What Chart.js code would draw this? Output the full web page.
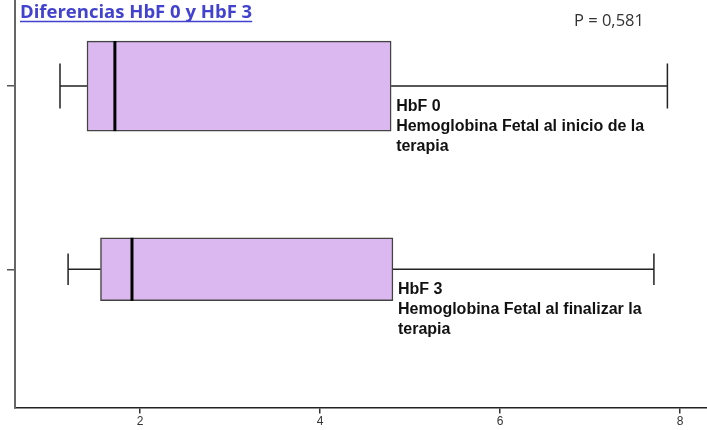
<!DOCTYPE html>
<html>
<head>
<meta charset="utf-8">
<script src="https://cdn.jsdelivr.net/npm/chart.js@4"></script>
<style>
  html, body { margin: 0; padding: 0; background: #fff; }
  #wrap { width: 707px; height: 430px; position: relative; }
</style>
</head>
<body>
<div id="wrap"><canvas id="boxChart"></canvas></div>
<script>
// Box plot values
const categories = ['HbF 0', 'HbF 3'];
const descriptions = [
    ['Hemoglobina Fetal al inicio de la', 'terapia'],
    ['Hemoglobina Fetal al finalizar la', 'terapia']
];
const positions = [1, 2];
const minVals = [1.11, 1.20];
const q1Vals = [1.41, 1.56];
const medianVals = [1.72, 1.91];
const q3Vals = [4.79, 4.81];
const maxVals = [7.86, 7.71];
const xTicks = [2, 4, 6, 8];
const titleText = 'Diferencias HbF 0 y HbF 3';
const pValueText = 'P = 0,581';

const boxThickness = [90, 63];

// whiskers, medians and the text labels next to each box
const boxExtras = {
    id: 'boxExtras',
    afterDatasetsDraw(chart) {
        const ctx = chart.ctx;
        const xs = chart.scales.x;
        const ys = chart.scales.y;
        ctx.save();
        categories.forEach((cat, i) => {
            const bar = chart.getDatasetMeta(i).data[0];
            const yc = ys.getPixelForValue(positions[i]);
            const h = bar.height;
            const xMin = xs.getPixelForValue(minVals[i]);
            const xQ1 = xs.getPixelForValue(q1Vals[i]);
            const xMed = xs.getPixelForValue(medianVals[i]);
            const xQ3 = xs.getPixelForValue(q3Vals[i]);
            const xMax = xs.getPixelForValue(maxVals[i]);

            // whiskers
            ctx.strokeStyle = '#222';
            ctx.lineWidth = 1.5;
            ctx.beginPath();
            ctx.moveTo(xMin, yc); ctx.lineTo(xQ1, yc);
            ctx.moveTo(xQ3, yc); ctx.lineTo(xMax, yc);
            ctx.moveTo(xMin, yc - h / 4); ctx.lineTo(xMin, yc + h / 4);
            ctx.moveTo(xMax, yc - h / 4); ctx.lineTo(xMax, yc + h / 4);
            ctx.stroke();

            // median
            ctx.strokeStyle = '#000';
            ctx.lineWidth = 3;
            ctx.beginPath();
            ctx.moveTo(xMed, yc - h / 2);
            ctx.lineTo(xMed, yc + h / 2);
            ctx.stroke();

            // label
            ctx.fillStyle = '#111';
            ctx.font = 'bold 16px "Liberation Sans", Arial, sans-serif';
            ctx.textBaseline = 'middle';
            ctx.textAlign = 'left';
            const lines = [cat].concat(descriptions[i]);
            lines.forEach((line, k) => {
                ctx.fillText(line, xQ3 + 5, yc + 20 + k * 20);
            });
        });
        ctx.restore();
    },
    afterDraw(chart) {
        const ctx = chart.ctx;
        ctx.save();
        // title, underlined
        ctx.font = 'bold 18.5px "Open Sans", sans-serif';
        ctx.fillStyle = '#4242cf';
        ctx.textBaseline = 'alphabetic';
        ctx.textAlign = 'left';
        ctx.fillText(titleText, 20, 18);
        const w = ctx.measureText(titleText).width;
        ctx.strokeStyle = '#4242cf';
        ctx.lineWidth = 1.5;
        ctx.beginPath();
        ctx.moveTo(20, 21.5);
        ctx.lineTo(20 + w, 21.5);
        ctx.stroke();

        // p value
        ctx.font = '16.5px "Open Sans", sans-serif';
        ctx.fillStyle = '#333';
        ctx.textBaseline = 'middle';
        ctx.fillText(pValueText, 574, 21);
        ctx.restore();
    }
};

const datasets = categories.map((cat, i) => ({
    label: cat,
    data: [{ x: [q1Vals[i], q3Vals[i]], y: positions[i] }],
    backgroundColor: '#dcb8f0',
    borderColor: '#444',
    borderWidth: 1.5,
    borderSkipped: false,
    barThickness: boxThickness[i],
    grouped: false
}));

const chart = new Chart(document.getElementById('boxChart').getContext('2d'), {
    type: 'bar',
    data: { datasets: datasets },
    options: {
        indexAxis: 'y',
        responsive: true,
        maintainAspectRatio: false,
        animation: false,
        layout: { padding: { left: 7, top: 0, right: 0, bottom: 0 } },
        plugins: {
            legend: { display: false },
            tooltip: { enabled: false }
        },
        scales: {
            x: {
                type: 'linear',
                min: 0.61,
                max: 8.3,
                afterBuildTicks: scale => { scale.ticks = xTicks.map(v => ({ value: v })); },
                grid: { drawOnChartArea: false, tickLength: 6, color: '#333', lineWidth: 1.5 },
                border: { color: '#222', width: 1.5 },
                ticks: {
                    color: '#333',
                    padding: 1,
                    autoSkip: false,
                    maxRotation: 0,
                    font: { size: 12, family: '"Liberation Sans Narrow", "Liberation Sans", sans-serif' }
                }
            },
            y: {
                type: 'linear',
                reverse: true,
                offset: false,
                min: 0.53,
                max: 2.755,
                afterBuildTicks: scale => { scale.ticks = positions.map(v => ({ value: v })); },
                grid: { offset: false, drawOnChartArea: false, tickLength: 8, color: '#555', lineWidth: 1.5 },
                border: { color: '#666', width: 2 },
                ticks: { display: false }
            }
        }
    },
    plugins: [boxExtras]
});
</script>
</body>
</html>
